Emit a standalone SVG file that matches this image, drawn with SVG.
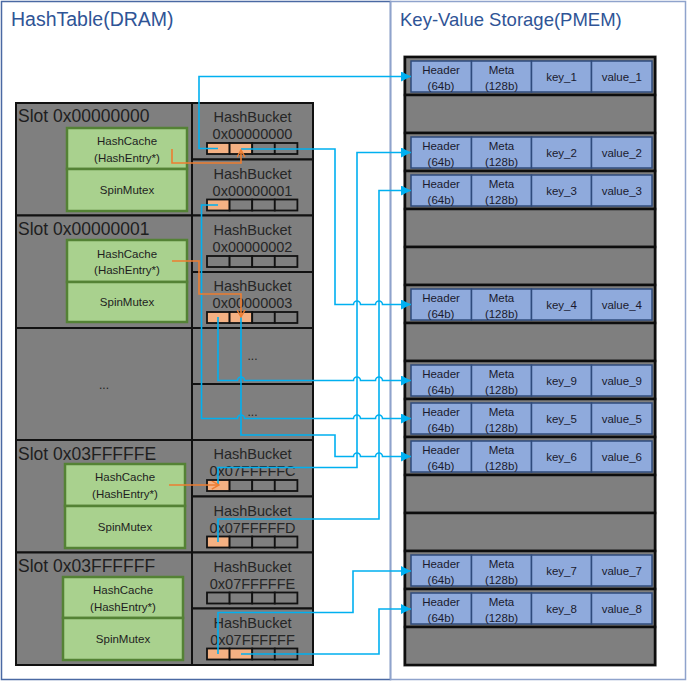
<svg xmlns="http://www.w3.org/2000/svg" width="688" height="682" viewBox="0 0 688 682">
<defs>
<style>
.t{font-family:"Liberation Sans",Arial,sans-serif;fill:#1e1e1e}
.title{font-family:"Liberation Sans",Arial,sans-serif;font-size:18.5px;fill:#2f5496}
.slot{fill:#7f7f7f;stroke:#111;stroke-width:2}
.slbl{font-size:17.5px}
.bk{fill:#7f7f7f;stroke:#111;stroke-width:2}
.blbl{font-size:14.5px;text-anchor:middle;fill:#262626}
.c{fill:#7f7f7f;stroke:#111;stroke-width:1.8}
.co{fill:#f4b183;stroke:#111;stroke-width:1.8}
.g{fill:#a9d18e;stroke:#548235;stroke-width:2.5}
.gt{font-size:11.5px;text-anchor:middle}
.row{fill:#7f7f7f;stroke:#0d0d0d;stroke-width:2.5}
.rc{fill:#8faadc;stroke:#2f4b7c;stroke-width:1.5}
.rt{font-size:11.5px;text-anchor:middle;fill:#1a1a2e}
.bl{fill:none;stroke:#00b0f0;stroke-width:1.6}
.or{fill:none;stroke:#ed7d31;stroke-width:1.6}
.dots{font-size:12px;text-anchor:middle}
</style>
<marker id="ab" viewBox="0 0 10 10" refX="10" refY="5" markerWidth="10" markerHeight="10" markerUnits="userSpaceOnUse" orient="auto">
<path d="M0,0 L10,5 L0,10 z" fill="#00b0f0"/>
</marker>
<marker id="ao" viewBox="0 0 10 10" refX="9" refY="5" markerWidth="9" markerHeight="9" markerUnits="userSpaceOnUse" orient="auto">
<path d="M1,0.5 L9,5 L1,9.5" fill="none" stroke="#ed7d31" stroke-width="1.6"/>
</marker>
</defs>
<rect width="688" height="682" fill="#ffffff"/>

<g id="panel-dram">
<rect x="1.5" y="1.5" width="389" height="678" fill="none" stroke="#4a69a3" stroke-width="1.5"/>
<text class="title" x="11" y="26" style="font-size:19.5px">HashTable(DRAM)</text>
</g>
<g id="panel-pmem">
<rect x="390.5" y="1.5" width="295" height="678" fill="none" stroke="#8fa3cc" stroke-width="1.5"/>
<text class="title" x="400" y="26">Key-Value Storage(PMEM)</text>
</g>

<g id="slot-0">
<rect class="slot" x="16" y="103" width="176" height="112.5"/>
<text class="t slbl" x="18" y="122">Slot 0x00000000</text>
<rect class="g" x="67" y="128" width="120" height="41"/>
<rect class="g" x="67" y="169" width="120" height="42"/>
<text class="t gt" x="127" y="145">HashCache</text>
<text class="t gt" x="127" y="162">(HashEntry*)</text>
<text class="t gt" x="127" y="194">SpinMutex</text>
</g>
<g id="slot-1">
<rect class="slot" x="16" y="215.5" width="176" height="112.5"/>
<text class="t slbl" x="18" y="235">Slot 0x00000001</text>
<rect class="g" x="67" y="240" width="120" height="42"/>
<rect class="g" x="67" y="282" width="120" height="40"/>
<text class="t gt" x="127" y="258">HashCache</text>
<text class="t gt" x="127" y="274">(HashEntry*)</text>
<text class="t gt" x="127" y="306">SpinMutex</text>
</g>
<g id="slot-dots">
<rect class="slot" x="16" y="328" width="176" height="112"/>
<text class="t dots" x="104" y="389">...</text>
</g>
<g id="slot-3fffffe">
<rect class="slot" x="16" y="440" width="176" height="112.5"/>
<text class="t slbl" x="18" y="459.5">Slot 0x03FFFFFE</text>
<rect class="g" x="65" y="464" width="120" height="42"/>
<rect class="g" x="65" y="506" width="120" height="42"/>
<text class="t gt" x="125" y="481">HashCache</text>
<text class="t gt" x="125" y="498">(HashEntry*)</text>
<text class="t gt" x="125" y="531">SpinMutex</text>
</g>
<g id="slot-3ffffff">
<rect class="slot" x="16" y="552.5" width="176" height="112.5"/>
<text class="t slbl" x="18" y="572">Slot 0x03FFFFFF</text>
<rect class="g" x="63" y="577" width="120" height="41"/>
<rect class="g" x="63" y="618" width="120" height="42"/>
<text class="t gt" x="123" y="594">HashCache</text>
<text class="t gt" x="123" y="611">(HashEntry*)</text>
<text class="t gt" x="123" y="643">SpinMutex</text>
</g>

<g id="bucket-00000000">
<rect class="bk" x="192" y="103" width="121" height="56.5"/>
<text class="t blbl" x="252.5" y="122">HashBucket</text>
<text class="t blbl" x="252.5" y="139">0x00000000</text>
<rect class="co" x="207" y="143" width="22.6" height="11"/><rect class="co" x="229.6" y="143" width="22.6" height="11"/><rect class="c" x="252.2" y="143" width="22.6" height="11"/><rect class="c" x="274.8" y="143" width="22.6" height="11"/>
</g>
<g id="bucket-00000001">
<rect class="bk" x="192" y="159.5" width="121" height="56"/>
<text class="t blbl" x="252.5" y="178.5">HashBucket</text>
<text class="t blbl" x="252.5" y="195.5">0x00000001</text>
<rect class="co" x="207" y="199.5" width="22.6" height="11"/><rect class="c" x="229.6" y="199.5" width="22.6" height="11"/><rect class="c" x="252.2" y="199.5" width="22.6" height="11"/><rect class="c" x="274.8" y="199.5" width="22.6" height="11"/>
</g>
<g id="bucket-00000002">
<rect class="bk" x="192" y="215.5" width="121" height="56.5"/>
<text class="t blbl" x="252.5" y="234.5">HashBucket</text>
<text class="t blbl" x="252.5" y="251.5">0x00000002</text>
<rect class="c" x="207" y="256" width="22.6" height="11"/><rect class="c" x="229.6" y="256" width="22.6" height="11"/><rect class="c" x="252.2" y="256" width="22.6" height="11"/><rect class="c" x="274.8" y="256" width="22.6" height="11"/>
</g>
<g id="bucket-00000003">
<rect class="bk" x="192" y="272" width="121" height="56"/>
<text class="t blbl" x="252.5" y="291">HashBucket</text>
<text class="t blbl" x="252.5" y="308">0x00000003</text>
<rect class="co" x="207" y="312" width="22.6" height="11"/><rect class="co" x="229.6" y="312" width="22.6" height="11"/><rect class="c" x="252.2" y="312" width="22.6" height="11"/><rect class="c" x="274.8" y="312" width="22.6" height="11"/>
</g>
<g id="bucket-dots-1">
<rect class="bk" x="192" y="328" width="121" height="56"/>
<text class="t dots" x="252.5" y="360">...</text>
</g>
<g id="bucket-dots-2">
<rect class="bk" x="192" y="384" width="121" height="56"/>
<text class="t dots" x="252.5" y="416">...</text>
</g>
<g id="bucket-07fffffc">
<rect class="bk" x="192" y="440" width="121" height="56.5"/>
<text class="t blbl" x="252.5" y="459">HashBucket</text>
<text class="t blbl" x="252.5" y="476">0x07FFFFFC</text>
<rect class="co" x="207" y="480" width="22.6" height="11"/><rect class="c" x="229.6" y="480" width="22.6" height="11"/><rect class="c" x="252.2" y="480" width="22.6" height="11"/><rect class="c" x="274.8" y="480" width="22.6" height="11"/>
</g>
<g id="bucket-07fffffd">
<rect class="bk" x="192" y="496.5" width="121" height="56"/>
<text class="t blbl" x="252.5" y="515.5">HashBucket</text>
<text class="t blbl" x="252.5" y="532.5">0x07FFFFFD</text>
<rect class="co" x="207" y="536.5" width="22.6" height="11"/><rect class="c" x="229.6" y="536.5" width="22.6" height="11"/><rect class="c" x="252.2" y="536.5" width="22.6" height="11"/><rect class="c" x="274.8" y="536.5" width="22.6" height="11"/>
</g>
<g id="bucket-07fffffe">
<rect class="bk" x="192" y="552.5" width="121" height="56"/>
<text class="t blbl" x="252.5" y="571.5">HashBucket</text>
<text class="t blbl" x="252.5" y="588.5">0x07FFFFFE</text>
<rect class="c" x="207" y="592.5" width="22.6" height="11"/><rect class="c" x="229.6" y="592.5" width="22.6" height="11"/><rect class="c" x="252.2" y="592.5" width="22.6" height="11"/><rect class="c" x="274.8" y="592.5" width="22.6" height="11"/>
</g>
<g id="bucket-07ffffff">
<rect class="bk" x="192" y="608.5" width="121" height="56.5"/>
<text class="t blbl" x="252.5" y="627.5">HashBucket</text>
<text class="t blbl" x="252.5" y="644.5">0x07FFFFFF</text>
<rect class="co" x="207" y="648.5" width="22.6" height="11"/><rect class="co" x="229.6" y="648.5" width="22.6" height="11"/><rect class="c" x="252.2" y="648.5" width="22.6" height="11"/><rect class="c" x="274.8" y="648.5" width="22.6" height="11"/>
</g>

<g id="storage">
<rect x="403.5" y="56" width="253" height="610" fill="#7f7f7f" stroke="#a6a6a6" stroke-width="1"/>
<rect class="row" x="405" y="57" width="250" height="38"/>
<rect class="row" x="405" y="95" width="250" height="38"/>
<rect class="row" x="405" y="133" width="250" height="38"/>
<rect class="row" x="405" y="171" width="250" height="38"/>
<rect class="row" x="405" y="209" width="250" height="38"/>
<rect class="row" x="405" y="247" width="250" height="38"/>
<rect class="row" x="405" y="285" width="250" height="38"/>
<rect class="row" x="405" y="323" width="250" height="38"/>
<rect class="row" x="405" y="361" width="250" height="38"/>
<rect class="row" x="405" y="399" width="250" height="38"/>
<rect class="row" x="405" y="437" width="250" height="38"/>
<rect class="row" x="405" y="475" width="250" height="38"/>
<rect class="row" x="405" y="513" width="250" height="38"/>
<rect class="row" x="405" y="551" width="250" height="38"/>
<rect class="row" x="405" y="589" width="250" height="38"/>
<rect class="row" x="405" y="627" width="250" height="38"/>
</g>

<g id="record-1" transform="translate(0,57)">
<rect class="rc" x="411" y="4" width="60.5" height="31"/><rect class="rc" x="471.5" y="4" width="60" height="31"/><rect class="rc" x="531.5" y="4" width="60" height="31"/><rect class="rc" x="591.5" y="4" width="60.5" height="31"/>
<text class="t rt" x="441" y="17">Header</text><text class="t rt" x="441" y="33">(64b)</text>
<text class="t rt" x="501.5" y="17">Meta</text><text class="t rt" x="501.5" y="33">(128b)</text>
<text class="t rt" x="561.5" y="24">key_1</text><text class="t rt" x="621.8" y="24">value_1</text>
</g>
<g id="record-2" transform="translate(0,133)">
<rect class="rc" x="411" y="4" width="60.5" height="31"/><rect class="rc" x="471.5" y="4" width="60" height="31"/><rect class="rc" x="531.5" y="4" width="60" height="31"/><rect class="rc" x="591.5" y="4" width="60.5" height="31"/>
<text class="t rt" x="441" y="17">Header</text><text class="t rt" x="441" y="33">(64b)</text>
<text class="t rt" x="501.5" y="17">Meta</text><text class="t rt" x="501.5" y="33">(128b)</text>
<text class="t rt" x="561.5" y="24">key_2</text><text class="t rt" x="621.8" y="24">value_2</text>
</g>
<g id="record-3" transform="translate(0,171)">
<rect class="rc" x="411" y="4" width="60.5" height="31"/><rect class="rc" x="471.5" y="4" width="60" height="31"/><rect class="rc" x="531.5" y="4" width="60" height="31"/><rect class="rc" x="591.5" y="4" width="60.5" height="31"/>
<text class="t rt" x="441" y="17">Header</text><text class="t rt" x="441" y="33">(64b)</text>
<text class="t rt" x="501.5" y="17">Meta</text><text class="t rt" x="501.5" y="33">(128b)</text>
<text class="t rt" x="561.5" y="24">key_3</text><text class="t rt" x="621.8" y="24">value_3</text>
</g>
<g id="record-4" transform="translate(0,285)">
<rect class="rc" x="411" y="4" width="60.5" height="31"/><rect class="rc" x="471.5" y="4" width="60" height="31"/><rect class="rc" x="531.5" y="4" width="60" height="31"/><rect class="rc" x="591.5" y="4" width="60.5" height="31"/>
<text class="t rt" x="441" y="17">Header</text><text class="t rt" x="441" y="33">(64b)</text>
<text class="t rt" x="501.5" y="17">Meta</text><text class="t rt" x="501.5" y="33">(128b)</text>
<text class="t rt" x="561.5" y="24">key_4</text><text class="t rt" x="621.8" y="24">value_4</text>
</g>
<g id="record-9" transform="translate(0,361)">
<rect class="rc" x="411" y="4" width="60.5" height="31"/><rect class="rc" x="471.5" y="4" width="60" height="31"/><rect class="rc" x="531.5" y="4" width="60" height="31"/><rect class="rc" x="591.5" y="4" width="60.5" height="31"/>
<text class="t rt" x="441" y="17">Header</text><text class="t rt" x="441" y="33">(64b)</text>
<text class="t rt" x="501.5" y="17">Meta</text><text class="t rt" x="501.5" y="33">(128b)</text>
<text class="t rt" x="561.5" y="24">key_9</text><text class="t rt" x="621.8" y="24">value_9</text>
</g>
<g id="record-5" transform="translate(0,399)">
<rect class="rc" x="411" y="4" width="60.5" height="31"/><rect class="rc" x="471.5" y="4" width="60" height="31"/><rect class="rc" x="531.5" y="4" width="60" height="31"/><rect class="rc" x="591.5" y="4" width="60.5" height="31"/>
<text class="t rt" x="441" y="17">Header</text><text class="t rt" x="441" y="33">(64b)</text>
<text class="t rt" x="501.5" y="17">Meta</text><text class="t rt" x="501.5" y="33">(128b)</text>
<text class="t rt" x="561.5" y="24">key_5</text><text class="t rt" x="621.8" y="24">value_5</text>
</g>
<g id="record-6" transform="translate(0,437)">
<rect class="rc" x="411" y="4" width="60.5" height="31"/><rect class="rc" x="471.5" y="4" width="60" height="31"/><rect class="rc" x="531.5" y="4" width="60" height="31"/><rect class="rc" x="591.5" y="4" width="60.5" height="31"/>
<text class="t rt" x="441" y="17">Header</text><text class="t rt" x="441" y="33">(64b)</text>
<text class="t rt" x="501.5" y="17">Meta</text><text class="t rt" x="501.5" y="33">(128b)</text>
<text class="t rt" x="561.5" y="24">key_6</text><text class="t rt" x="621.8" y="24">value_6</text>
</g>
<g id="record-7" transform="translate(0,551)">
<rect class="rc" x="411" y="4" width="60.5" height="31"/><rect class="rc" x="471.5" y="4" width="60" height="31"/><rect class="rc" x="531.5" y="4" width="60" height="31"/><rect class="rc" x="591.5" y="4" width="60.5" height="31"/>
<text class="t rt" x="441" y="17">Header</text><text class="t rt" x="441" y="33">(64b)</text>
<text class="t rt" x="501.5" y="17">Meta</text><text class="t rt" x="501.5" y="33">(128b)</text>
<text class="t rt" x="561.5" y="24">key_7</text><text class="t rt" x="621.8" y="24">value_7</text>
</g>
<g id="record-8" transform="translate(0,589)">
<rect class="rc" x="411" y="4" width="60.5" height="31"/><rect class="rc" x="471.5" y="4" width="60" height="31"/><rect class="rc" x="531.5" y="4" width="60" height="31"/><rect class="rc" x="591.5" y="4" width="60.5" height="31"/>
<text class="t rt" x="441" y="17">Header</text><text class="t rt" x="441" y="33">(64b)</text>
<text class="t rt" x="501.5" y="17">Meta</text><text class="t rt" x="501.5" y="33">(128b)</text>
<text class="t rt" x="561.5" y="24">key_8</text><text class="t rt" x="621.8" y="24">value_8</text>
</g>

<g id="connectors">
<path class="bl" marker-end="url(#ab)" d="M218,148.5 H199 V76.5 H411"/>
<path class="bl" marker-end="url(#ab)" d="M241,149 H335 V304.5 H353.5 a3.5,3.5 0 0 1 7,0 H375.5 a3.5,3.5 0 0 1 7,0 H411"/>
<path class="bl" marker-end="url(#ab)" d="M218,485 V467.5 H357 V152.5 H411"/>
<path class="bl" marker-end="url(#ab)" d="M218,542 V519 H379 V190.5 H411"/>
<path class="bl" marker-end="url(#ab)" d="M218,205 H201.5 V418.5 H237.5 a3.5,3.5 0 0 1 7,0 H353.5 a3.5,3.5 0 0 1 7,0 H375.5 a3.5,3.5 0 0 1 7,0 H411"/>
<path class="bl" marker-end="url(#ab)" d="M218,317 V380.5 H237.5 a3.5,3.5 0 0 1 7,0 H353.5 a3.5,3.5 0 0 1 7,0 H375.5 a3.5,3.5 0 0 1 7,0 H411"/>
<path class="bl" marker-end="url(#ab)" d="M241,317 V435 H335 V456.5 H353.5 a3.5,3.5 0 0 1 7,0 H375.5 a3.5,3.5 0 0 1 7,0 H411"/>
<path class="bl" marker-end="url(#ab)" d="M218,654 V612.5 H353 V571 H411"/>
<path class="bl" marker-end="url(#ab)" d="M241,654 H379 V609 H411"/>
<path class="or" marker-end="url(#ao)" d="M172,149 V163 H241 V150"/>
<path class="or" marker-end="url(#ao)" d="M172,261 H199 V294 H241 V317"/>
<path class="or" marker-end="url(#ao)" d="M169,485 H219"/>
</g>
</svg>
